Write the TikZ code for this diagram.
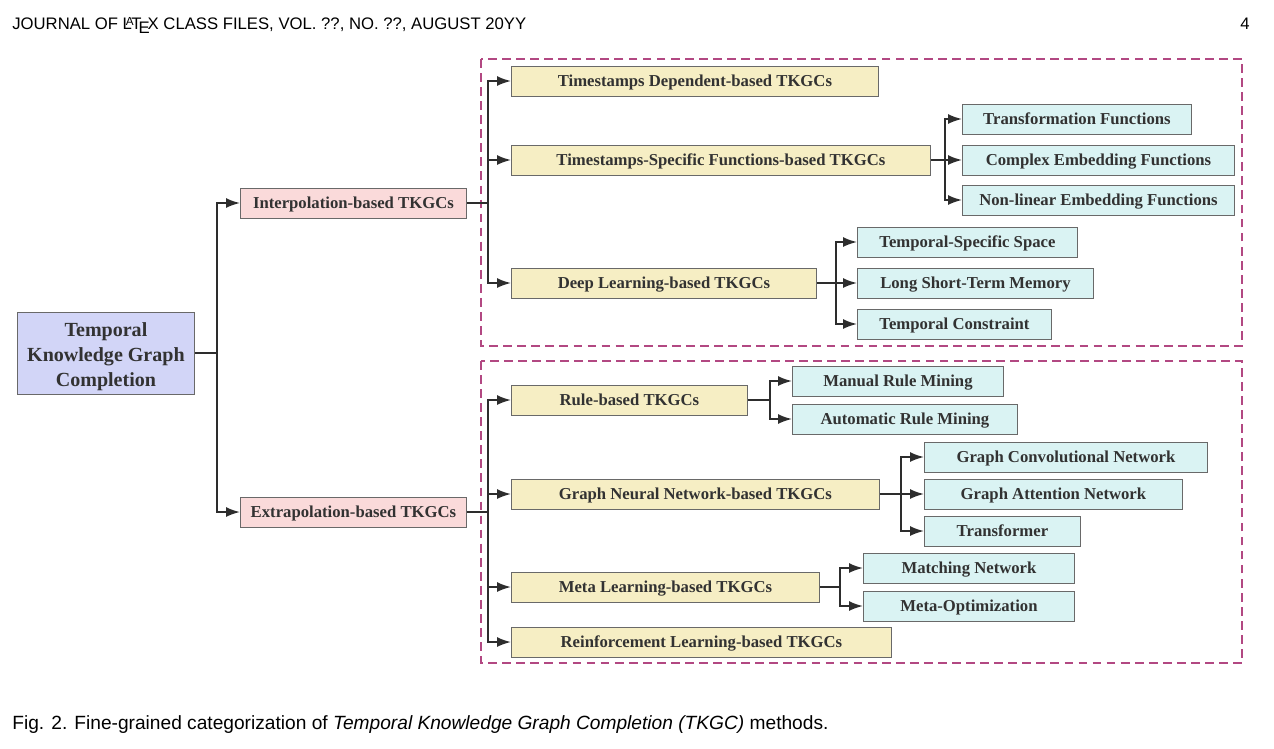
\documentclass[tikz,border=0pt]{standalone}
\usepackage{fontspec}
\setmainfont{Liberation Serif}
\newfontfamily\headfont{Liberation Sans}
\usetikzlibrary{arrows.meta}

\definecolor{mainfill}{RGB}{210,213,247}
\definecolor{pinkfill}{RGB}{250,218,218}
\definecolor{yelfill}{RGB}{246,238,196}
\definecolor{cynfill}{RGB}{218,243,243}
\definecolor{grpline}{RGB}{178,72,130}
\definecolor{boxline}{RGB}{105,105,105}
\definecolor{txtcol}{RGB}{50,50,50}
\definecolor{linecol}{RGB}{45,45,45}

\tikzset{
  box/.style={draw=boxline, line width=0.5pt, text=txtcol, inner sep=0pt,
    minimum height=0.6cm, anchor=west, text height=0.66em, text depth=0pt,
    font=\fontsize{9.5}{11}\selectfont\bfseries},
  wd/.style={minimum width=#1*0.02cm},
  catbox/.style={box, fill=yelfill},
  subbox/.style={box, fill=cynfill},
  link/.style={draw=linecol, line width=1pt},
  arr/.style={link, -{Latex[length=2.8mm,width=2mm]}},
  group/.style={draw=grpline, line width=0.9pt, dash pattern=on 5pt off 3pt},
  page/.style={inner sep=0pt, anchor=base west}
}

\begin{document}
\begin{tikzpicture}[x=0.02cm, y=-0.02cm]
    \useasboundingbox (0,0) rectangle (1274,748);
    % Page header and caption
    \node [page, font=\headfont\fontsize{9.5}{11}\selectfont] (head) at (12,29)
        {JOURNAL OF \LaTeX\ CLASS FILES, VOL. ??, NO. ??, AUGUST 20YY};
    \node [page, anchor=base east, font=\headfont\fontsize{9.5}{11}\selectfont] (pnum) at (1250,29) {4};
    \node [page, font=\headfont\fontsize{10.9}{13}\selectfont] (cap) at (12,729)
        {Fig. 2. Fine-grained categorization of \textit{Temporal Knowledge Graph Completion (TKGC)} methods.};

    % Dashed groups
    \draw [group] (481,59) rectangle (1242,346);
    \draw [group] (481,361) rectangle (1242,663);

    % Root and first level
    \node [box, wd=177, minimum height=82*0.02cm, fill=mainfill, align=center,
        text height=38.2pt, text depth=0pt,
        font=\fontsize{11.4}{14.2}\selectfont\bfseries] (tkgc) at (17,353)
        {Temporal\\Knowledge Graph\\Completion};
    \node [box, wd=226, fill=pinkfill] (interp) at (240,203) {Interpolation-based TKGCs};
    \node [box, wd=226, fill=pinkfill] (extrap) at (240,512) {Extrapolation-based TKGCs};

    % Interpolation methods
    \node [catbox, wd=367] (tsdep) at (511,81) {Timestamps Dependent-based TKGCs};
    \node [catbox, wd=419] (tsfun) at (511,160) {Timestamps-Specific Functions-based TKGCs};
    \node [catbox, wd=305] (deep) at (511,283) {Deep Learning-based TKGCs};
    \node [subbox, wd=229] (trans) at (962,119) {Transformation Functions};
    \node [subbox, wd=272] (cplx) at (962,160) {Complex Embedding Functions};
    \node [subbox, wd=272] (nonlin) at (962,200) {Non-linear Embedding Functions};
    \node [subbox, wd=220] (tss) at (857,242) {Temporal-Specific Space};
    \node [subbox, wd=236] (lstm) at (857,283) {Long Short-Term Memory};
    \node [subbox, wd=194] (tcon) at (857,324) {Temporal Constraint};

    % Extrapolation methods
    \node [catbox, wd=236] (rule) at (511,400) {Rule-based TKGCs};
    \node [catbox, wd=368] (gnn) at (511,494) {Graph Neural Network-based TKGCs};
    \node [catbox, wd=308] (meta) at (511,587) {Meta Learning-based TKGCs};
    \node [catbox, wd=380] (rl) at (511,642) {Reinforcement Learning-based TKGCs};
    \node [subbox, wd=211] (manual) at (792,381) {Manual Rule Mining};
    \node [subbox, wd=225] (auto) at (792,419) {Automatic Rule Mining};
    \node [subbox, wd=283] (gcn) at (924,457) {Graph Convolutional Network};
    \node [subbox, wd=258] (gat) at (924,494) {Graph Attention Network};
    \node [subbox, wd=156] (tfm) at (924,531) {Transformer};
    \node [subbox, wd=211] (match) at (863,568) {Matching Network};
    \node [subbox, wd=211] (metaopt) at (863,606) {Meta-Optimization};

    % Branch points
    \coordinate (jroot) at (217,353);
    \coordinate (jint) at (488,203);
    \coordinate (jext) at (488,512);
    \coordinate (jfun) at (945,160);
    \coordinate (jdeep) at (836,283);
    \coordinate (jrule) at (770,400);
    \coordinate (jgnn) at (901,494);
    \coordinate (jmeta) at (840,587);

    % Connectors
    \draw [link] (tkgc.east) -- (jroot);
    \draw [arr] (jroot) |- (interp.west);
    \draw [arr] (jroot) |- (extrap.west);

    \draw [link] (interp.east) -- (jint);
    \foreach \n in {tsdep, tsfun, deep}
        \draw [arr] (jint) |- (\n.west);
    \draw [link] (extrap.east) -- (jext);
    \foreach \n in {rule, gnn, meta, rl}
        \draw [arr] (jext) |- (\n.west);

    \draw [link] (tsfun.east) -- (jfun);
    \foreach \n in {trans, cplx, nonlin}
        \draw [arr] (jfun) |- (\n.west);
    \draw [link] (deep.east) -- (jdeep);
    \foreach \n in {tss, lstm, tcon}
        \draw [arr] (jdeep) |- (\n.west);
    \draw [link] (rule.east) -- (jrule);
    \foreach \n in {manual, auto}
        \draw [arr] (jrule) |- (\n.west);
    \draw [link] (gnn.east) -- (jgnn);
    \foreach \n in {gcn, gat, tfm}
        \draw [arr] (jgnn) |- (\n.west);
    \draw [link] (meta.east) -- (jmeta);
    \foreach \n in {match, metaopt}
        \draw [arr] (jmeta) |- (\n.west);
\end{tikzpicture}
\end{document}
